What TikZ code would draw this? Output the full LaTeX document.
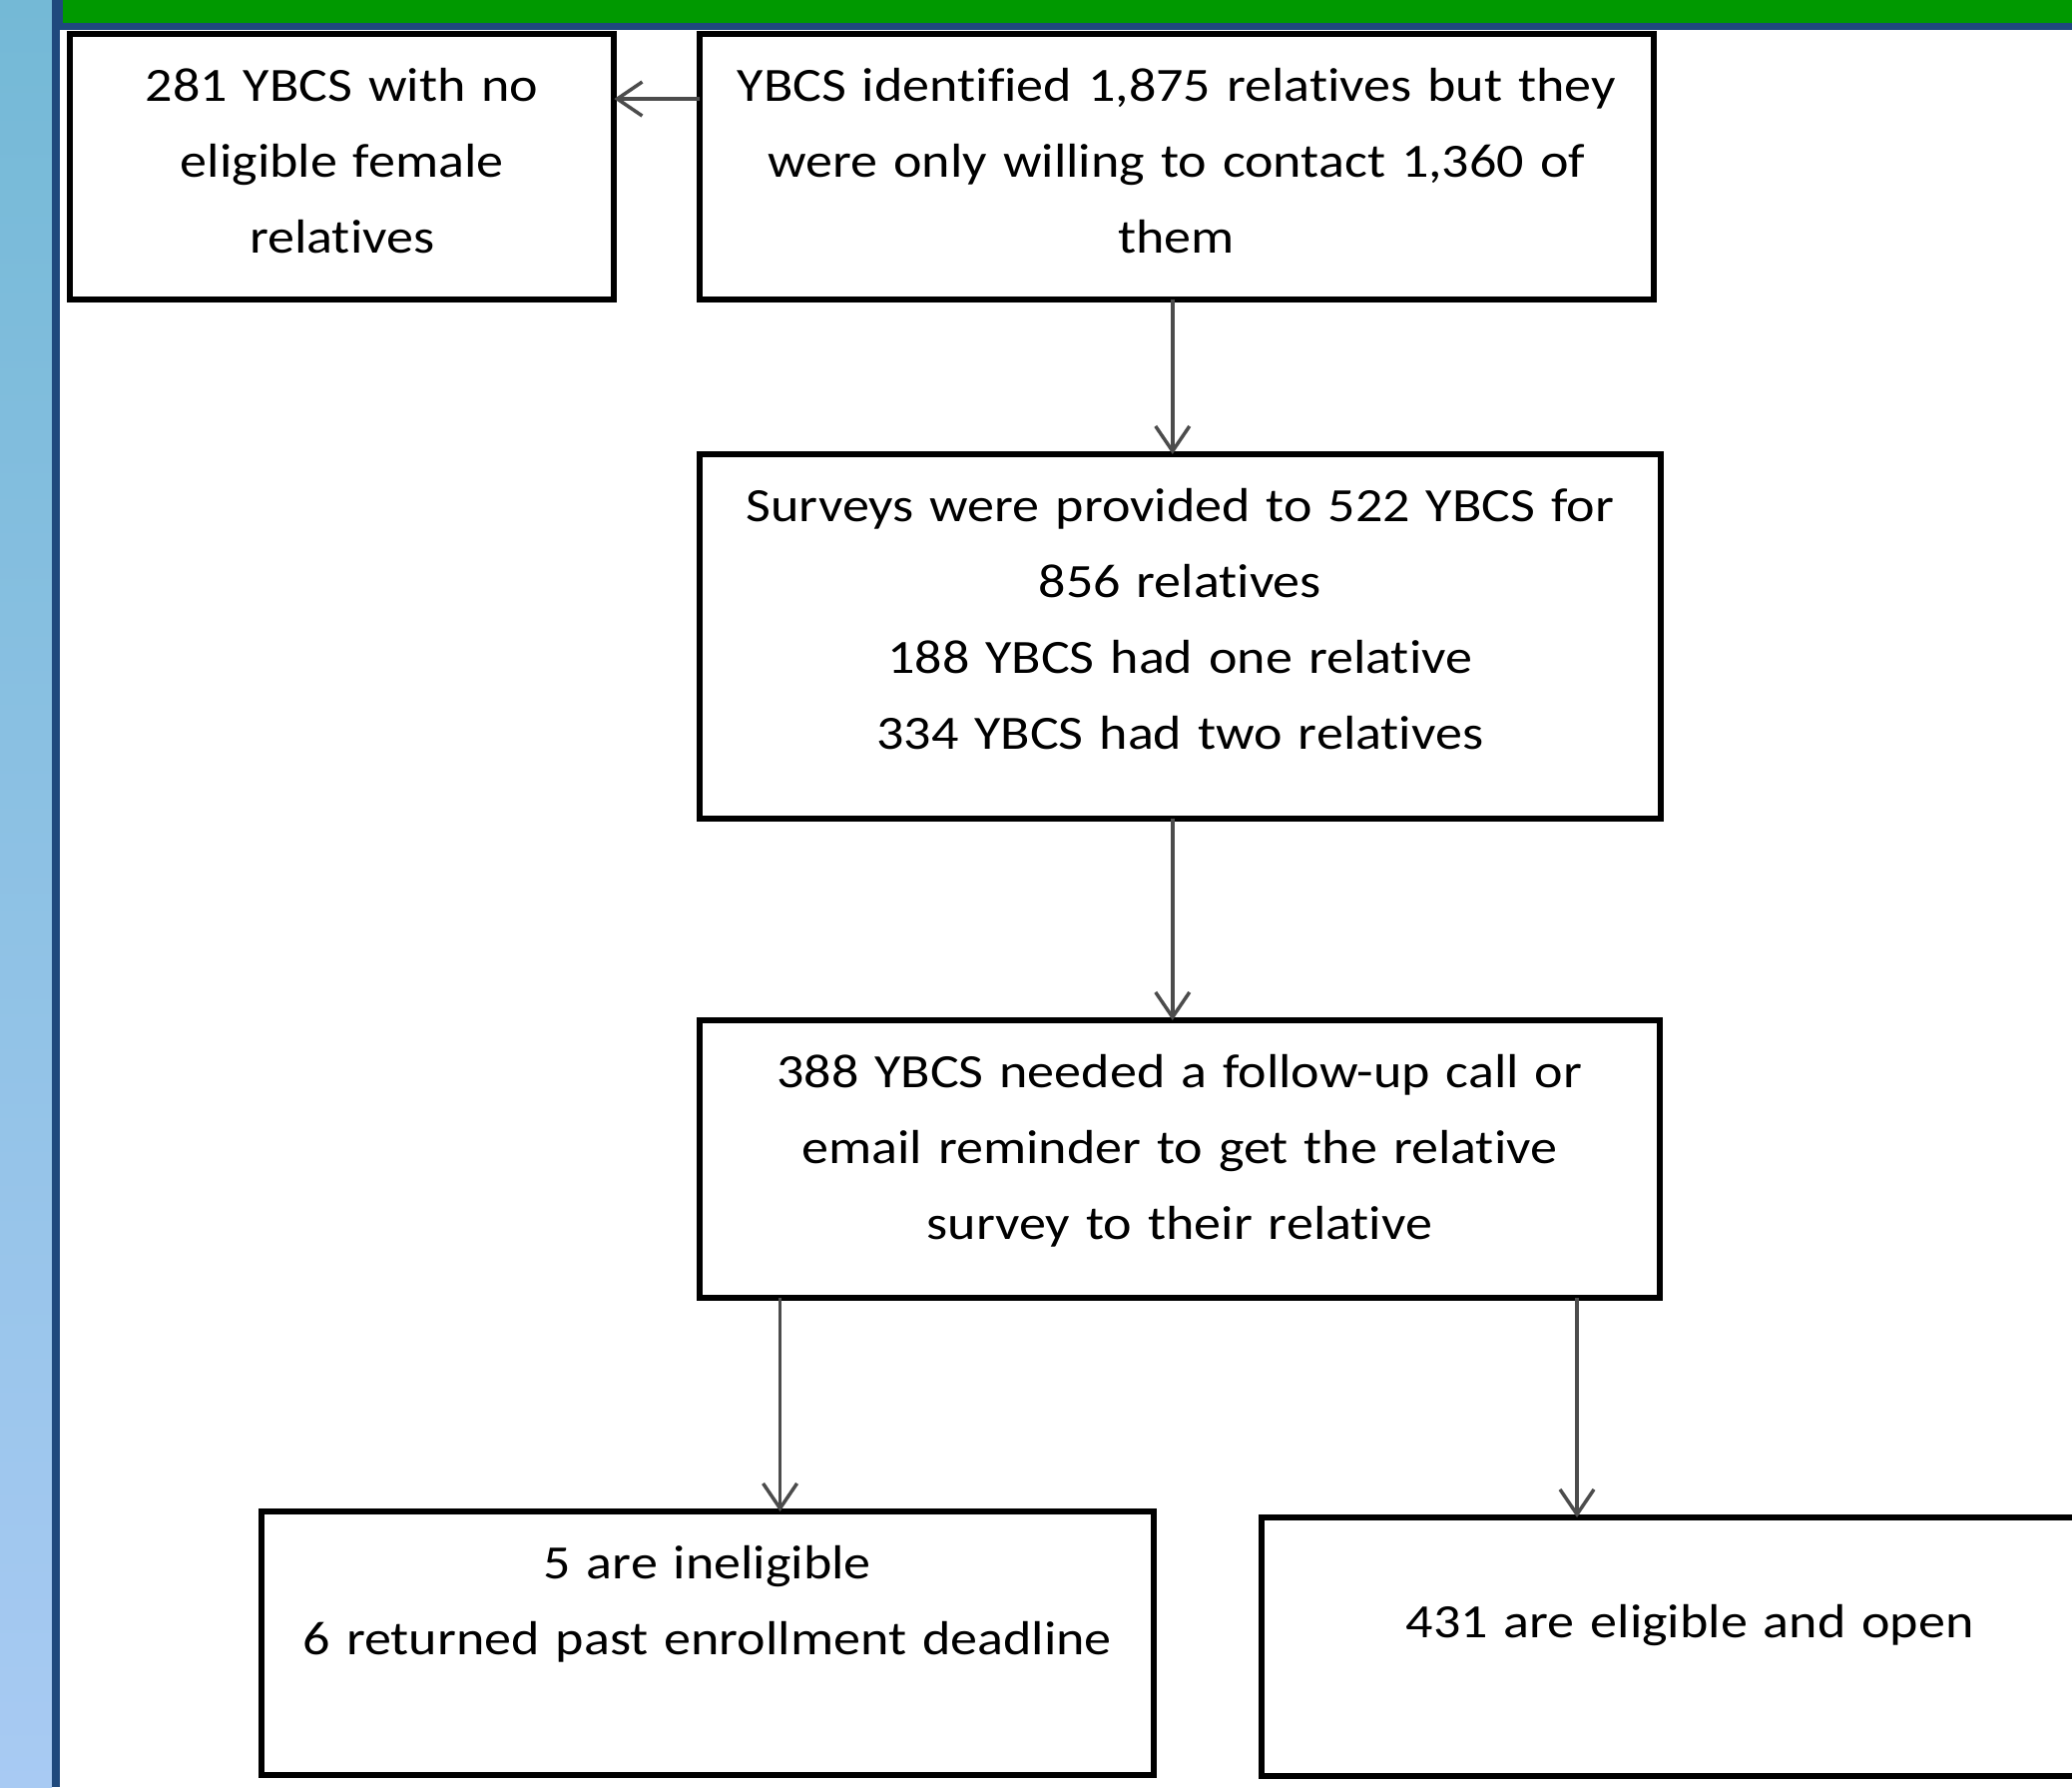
\documentclass[tikz,border=0pt]{standalone}
\usepackage{fontspec}
\setmainfont{Carlito}[FakeStretch=1.13, Ligatures=NoCommon]
\usetikzlibrary{arrows.meta}

\definecolor{frameblue}{RGB}{31,73,125}
\definecolor{framegreen}{RGB}{0,153,0}
\definecolor{stripteal}{RGB}{116,185,214}
\definecolor{stripsky}{RGB}{142,196,243}
\definecolor{striplight}{RGB}{168,202,243}

\tikzset{
  flowbox/.style={draw, line width=0.06cm, inner sep=0pt, outer sep=0pt, anchor=north west,
    align=center, text height=0.67cm, font=\fontsize{13.6}{21.7}\selectfont},
  flowarrow/.style={-{Straight Barb[length=0.25cm,width=0.34cm]}, black!70, line width=0.035cm}
}

\begin{document}
\begin{tikzpicture}[x=0.01cm, y=-0.01cm]
\useasboundingbox (0,0) rectangle (2076,1790);
\clip (0,0) rectangle (2076,1790);

% slide frame
\shade[top color=stripteal, middle color=stripsky, bottom color=striplight] (0,0) rectangle (52,1790);
\fill[frameblue] (52,0) rectangle (60,1790);
\fill[frameblue] (52,0) rectangle (2076,30);
\fill[framegreen] (63,0) rectangle (2076,23);

% boxes
\node[flowbox, text width=5.45cm, text depth=1.99cm] (noelig) at (70,34)
  {281 YBCS with no\\eligible female\\relatives};
\node[flowbox, text width=9.55cm, text depth=1.99cm] (ident) at (701,34)
  {YBCS identified 1,875 relatives but they\\were only willing to contact 1,360 of\\them};
\node[flowbox, text width=9.62cm, text depth=2.98cm] (survey) at (701,455)
  {Surveys were provided to 522 YBCS for\\856 relatives\\188 YBCS had one relative\\334 YBCS had two relatives};
\node[flowbox, text width=9.61cm, text depth=2.11cm] (reminder) at (701,1022)
  {388 YBCS needed a follow-up call or\\email reminder to get the relative\\survey to their relative};
\node[flowbox, text width=8.93cm, text depth=1.97cm] (inelig) at (262,1514)
  {5 are ineligible\\6 returned past enrollment deadline};
\node[flowbox, text width=8.58cm, text height=1.2cm, text depth=1.39cm] (eligopen) at (1264,1520)
  {431 are eligible and open};

% arrows
\draw[flowarrow] ([yshift=-0.65cm]ident.north west) -- ([yshift=-0.65cm]ident.north west -| noelig.east);
\draw[flowarrow] ([xshift=-0.04cm]ident.south) -- ([xshift=-0.04cm]ident.south |- survey.north);
\draw[flowarrow] ([xshift=-0.04cm]survey.south -| ident.south) -- ([xshift=-0.04cm]reminder.north -| ident.south);
\draw[flowarrow] ([xshift=-4cm]reminder.south) -- ([xshift=-4cm]reminder.south |- inelig.north);
\draw[flowarrow] ([xshift=3.98cm]reminder.south) -- ([xshift=3.98cm]reminder.south |- eligopen.north);

\end{tikzpicture}
\end{document}
